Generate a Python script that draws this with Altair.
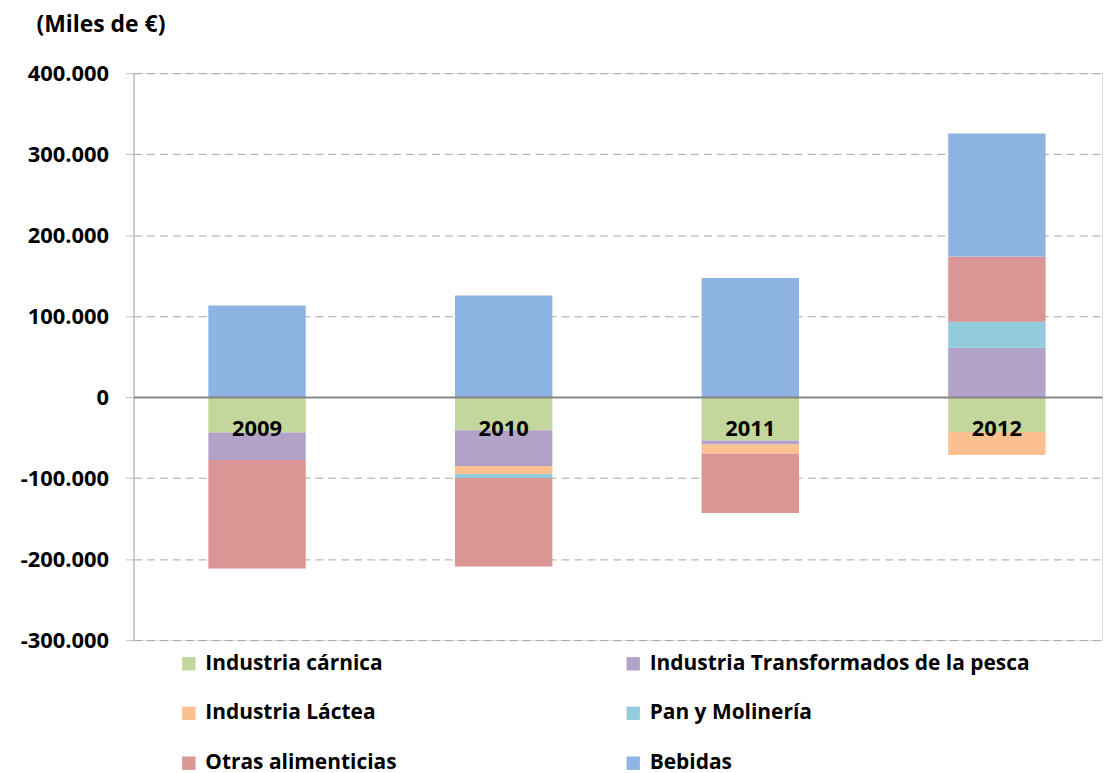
import altair as alt
import pandas as pd

years = ["2009", "2010", "2011", "2012"]
categories = [
    "Industria cárnica",
    "Industria Transformados de la pesca",
    "Industria Láctea",
    "Pan y Molinería",
    "Otras alimenticias",
    "Bebidas",
]
colors = ["#C3D69B", "#B2A2C7", "#FAC090", "#93CDDD", "#D99694", "#8EB4E3"]

carnica = [-43700, -41000, -53500, -43000]
pesca = [-34000, -44000, -5000, 61000]
lactea = [0, -10000, -11500, -28600]
pan = [0, -5000, 0, 32000]
otras = [-134000, -109000, -73000, 80500]
bebidas = [113000, 125400, 147000, 152000]

series = [carnica, pesca, lactea, pan, otras, bebidas]
rows = []
for ci, (cat, vals) in enumerate(zip(categories, series)):
    for y, v in zip(years, vals):
        rows.append({"year": y, "cat": cat, "value": v, "ord": ci})
df = pd.DataFrame(rows)

# legend fills column by column: order entries so rows read like the reference
legend_order = [0, 2, 4, 1, 3, 5]
leg_domain = [categories[i] for i in legend_order]
leg_range = [colors[i] for i in legend_order]

FONT = "Open Sans"

label_expr = "(datum.value < 0 ? '-' : '') + replace(format(abs(datum.value), ','), ',', '.')"

chart = (
    alt.Chart(df)
    .mark_bar()
    .encode(
        x=alt.X(
            "year:N",
            sort=years,
            scale=alt.Scale(paddingInner=0.605, paddingOuter=0.266, align=0.57),
            axis=alt.Axis(
                orient="bottom",
                offset=-244,
                title=None,
                ticks=False,
                labelAngle=0,
                labelFont=FONT,
                labelFontSize=22,
                labelFontWeight="bold",
                labelColor="#000000",
                labelPadding=22,
                domainColor="#868686",
                domainWidth=2,
                zindex=1,
            ),
        ),
        y=alt.Y(
            "value:Q",
            stack="zero",
            scale=alt.Scale(domain=[-300000, 400000], nice=False),
            axis=alt.Axis(
                values=[-300000, -200000, -100000, 0, 100000, 200000, 300000, 400000],
                labelExpr=label_expr,
                labelFont=FONT,
                labelFontSize=22,
                labelFontWeight="bold",
                labelColor="#000000",
                labelPadding=17,
                tickSize=8,
                tickColor="#bfbfbf",
                domainColor="#bfbfbf",
                domainWidth=1.5,
                grid=True,
                gridDash=[8, 5],
                gridColor="#a6a6a6",
                gridWidth=1,
                title="(Miles de €)",
                titleAngle=0,
                titleAlign="left",
                titleBaseline="alphabetic",
                titleX=-98,
                titleY=-42,
                titleFont=FONT,
                titleFontSize=23,
                titleFontWeight="bold",
                titleColor="#000000",
            ),
        ),
        color=alt.Color(
            "cat:N",
            scale=alt.Scale(domain=leg_domain, range=leg_range),
            legend=alt.Legend(
                title=None,
                orient="none",
                legendX=45,
                legendY=582,
                columns=2,
                columnPadding=226,
                rowPadding=28,
                symbolType="square",
                symbolSize=180,
                symbolStrokeWidth=0,
                symbolOpacity=1,
                labelFont=FONT,
                labelFontSize=21,
                labelFontWeight="bold",
                labelColor="#000000",
                labelOffset=6,
                labelLimit=600,
                padding=0,
            ),
        ),
        order=alt.Order("ord:Q", sort="ascending"),
    )
    .properties(
        width=972,
        height=569,
        padding={"left": 12, "top": 4, "right": 5, "bottom": 5},
    )
    .configure_view(stroke=None)
    .configure(background="#ffffff")
)

chart.save("out.html", embed_options={"renderer": "svg", "actions": False})
